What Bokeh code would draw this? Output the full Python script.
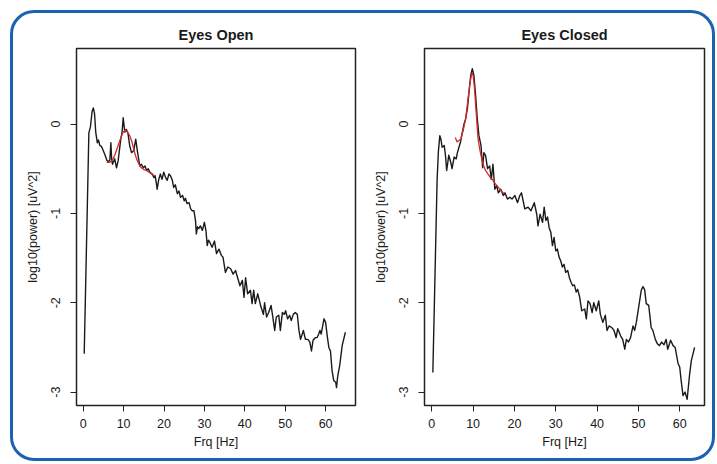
from bokeh.plotting import figure
from bokeh.layouts import row
from bokeh.models import FixedTicker
from bokeh.embed import file_html
from bokeh.resources import INLINE

# ---- data ----
open_freq = [0.25, 1.4, 1.8, 2.2, 2.5, 2.8, 3.1, 3.5, 3.8, 4.1, 4.5, 4.8, 5.35, 5.9, 6.3, 6.6, 6.85, 7.05,
             7.25, 7.8, 8.25, 8.65, 9.3, 9.6, 9.9, 10.3, 10.7, 11.1, 11.5, 11.95, 12.5, 13.0, 13.4, 14.0,
             14.4, 14.85, 15.3, 15.7, 16.1, 16.5, 17.1, 17.5, 17.8, 18.1, 18.3, 18.7, 19.1, 19.5, 19.95,
             20.4, 20.8, 21.2, 21.6, 22.0, 22.4, 22.8, 23.3, 23.7, 24.1, 24.6, 25.0, 25.3, 25.7, 26.2,
             26.6, 27.0, 27.4, 27.8, 28.0, 28.3, 28.6, 29.0, 29.5, 30.0, 30.4, 30.7, 31.0, 31.3, 31.9,
             32.5, 33.0, 33.6, 34.2, 34.6, 35.2, 35.8, 36.5, 37.1, 37.7, 38.1, 38.8, 39.4, 39.8, 40.2,
             40.7, 41.4, 41.8, 42.2, 42.6, 43.2, 43.9, 44.6, 44.9, 45.4, 45.9, 46.5, 47.0, 47.4, 47.8,
             48.4, 48.8, 49.3, 49.8, 50.1, 50.6, 51.1, 51.5, 52.0, 52.5, 53.0, 53.4, 53.8, 54.5, 55.0,
             55.6, 56.1, 56.5, 56.9, 57.5, 57.9, 58.3, 58.6, 58.9, 59.6, 60.0, 60.4, 60.8, 61.2, 61.6,
             62.0, 62.5, 62.7, 63.0, 63.5, 64.1, 64.9]
open_power = [-2.57, -0.10, -0.03, 0.14, 0.18, 0.12, -0.09, -0.21, -0.18, -0.24, -0.25, -0.28, -0.34, -0.41,
              -0.42, -0.40, -0.21, -0.40, -0.45, -0.39, -0.49, -0.41, -0.17, -0.10, 0.07, -0.09, -0.06,
              -0.11, -0.24, -0.32, -0.30, -0.17, -0.30, -0.47, -0.45, -0.49, -0.47, -0.52, -0.50, -0.54,
              -0.56, -0.60, -0.58, -0.66, -0.73, -0.62, -0.56, -0.62, -0.54, -0.60, -0.63, -0.56, -0.58,
              -0.62, -0.71, -0.68, -0.78, -0.75, -0.82, -0.80, -0.86, -0.83, -0.89, -0.88, -0.95, -0.97,
              -0.97, -1.08, -1.23, -1.15, -1.17, -1.14, -1.19, -1.10, -1.20, -1.36, -1.30, -1.32, -1.38,
              -1.31, -1.45, -1.40, -1.47, -1.49, -1.66, -1.60, -1.62, -1.68, -1.64, -1.70, -1.81, -1.75,
              -1.94, -1.72, -1.90, -1.86, -2.01, -1.86, -2.01, -1.90, -2.03, -2.13, -2.00, -2.16, -2.11,
              -2.03, -2.18, -2.31, -2.16, -2.14, -2.31, -2.11, -2.13, -2.09, -2.18, -2.14, -2.20, -2.13,
              -2.11, -2.13, -2.31, -2.41, -2.31, -2.41, -2.41, -2.44, -2.54, -2.42, -2.39, -2.39, -2.35,
              -2.31, -2.35, -2.18, -2.22, -2.37, -2.50, -2.54, -2.76, -2.87, -2.89, -2.95, -2.82, -2.70,
              -2.48, -2.33]
open_fit_freq = [5.8, 6.5, 7.0, 7.4, 7.8, 8.2, 8.65, 9.1, 9.5, 9.9, 10.5, 11.0, 11.5, 12.0, 12.4, 12.8, 13.2,
                 13.8, 14.4, 15.0, 15.7, 16.3, 16.9, 17.7]
open_fit_power = [-0.43, -0.43, -0.41, -0.39, -0.35, -0.30, -0.24, -0.18, -0.13, -0.09, -0.07, -0.09, -0.13,
                  -0.19, -0.26, -0.33, -0.39, -0.45, -0.49, -0.51, -0.52, -0.54, -0.56, -0.58]

closed_freq = [0.25, 1.28, 1.6, 1.94, 2.2, 2.5, 3.0, 3.3, 3.6, 4.1, 4.6, 4.9, 5.4, 5.9, 6.2, 6.7, 7.0, 7.4,
               7.8, 8.2, 8.6, 9.0, 9.4, 9.8, 10.2, 10.6, 11.0, 11.4, 11.9, 12.3, 12.6, 13.0, 13.5, 14.0,
               14.4, 14.8, 15.25, 15.7, 16.1, 16.7, 17.3, 17.7, 18.3, 18.9, 19.4, 20.1, 20.75, 21.3, 21.7,
               22.2, 22.5, 23.3, 24.0, 24.8, 25.4, 25.7, 26.2, 26.8, 27.2, 27.6, 28.0, 28.4, 28.8, 29.2,
               29.6, 30.0, 30.4, 30.8, 31.2, 31.6, 32.0, 32.4, 32.9, 33.3, 33.7, 34.1, 34.5, 34.95, 35.3,
               35.75, 36.3, 37.0, 37.4, 37.8, 38.3, 38.8, 39.2, 39.8, 40.4, 40.8, 41.4, 42.0, 42.4, 42.9,
               43.6, 44.1, 44.6, 45.0, 45.7, 46.2, 46.7, 47.1, 47.6, 48.1, 48.7, 49.1, 49.5, 50.3, 50.7,
               51.1, 51.5, 51.9, 52.5, 53.1, 53.5, 54.1, 54.6, 55.1, 55.6, 56.2, 56.7, 57.1, 57.8, 58.4,
               58.9, 59.6, 60.0, 60.4, 60.8, 61.3, 61.8, 62.4, 62.8, 63.6]
closed_power = [-2.78, -0.63, -0.30, -0.13, -0.17, -0.26, -0.24, -0.35, -0.52, -0.35, -0.43, -0.50, -0.37,
                -0.39, -0.32, -0.24, -0.19, -0.09, 0.00, 0.06, 0.17, 0.35, 0.54, 0.62, 0.54, 0.32, 0.06,
                -0.13, -0.24, -0.49, -0.32, -0.35, -0.50, -0.47, -0.62, -0.45, -0.73, -0.69, -0.77, -0.73,
                -0.80, -0.77, -0.84, -0.82, -0.84, -0.80, -0.88, -0.80, -0.77, -0.88, -0.95, -0.93, -0.97,
                -0.88, -1.01, -1.14, -1.01, -1.10, -0.93, -1.08, -1.04, -1.16, -1.21, -1.36, -1.27, -1.42,
                -1.40, -1.49, -1.53, -1.60, -1.57, -1.66, -1.64, -1.72, -1.77, -1.81, -1.80, -1.88, -1.85,
                -1.93, -2.09, -2.07, -2.18, -1.98, -2.01, -2.11, -2.00, -2.09, -1.98, -2.13, -2.22, -2.14,
                -2.31, -2.26, -2.28, -2.31, -2.39, -2.29, -2.37, -2.41, -2.52, -2.41, -2.44, -2.39, -2.26,
                -2.31, -2.22, -1.98, -1.86, -1.82, -1.85, -2.01, -2.03, -2.28, -2.31, -2.41, -2.46, -2.48,
                -2.44, -2.47, -2.41, -2.52, -2.42, -2.48, -2.50, -2.68, -2.72, -2.89, -3.04, -3.00, -3.08,
                -2.80, -2.65, -2.50]
closed_fit_freq = [5.7, 6.1, 6.4, 7.0, 7.6, 8.2, 8.6, 9.1, 9.4, 9.6, 9.8, 10.0, 10.2, 10.4, 10.8, 11.2, 11.6,
                   11.9, 12.4, 13.0, 13.6, 14.2, 14.8, 15.4, 16.1, 16.8, 17.5]
closed_fit_power = [-0.15, -0.20, -0.19, -0.17, -0.07, 0.06, 0.22, 0.41, 0.50, 0.55, 0.57, 0.54, 0.46,
                    0.35, 0.09, -0.17, -0.28, -0.35, -0.45, -0.52, -0.56, -0.60, -0.63, -0.67, -0.71,
                    -0.75, -0.78]

x_ticks = [0, 10, 20, 30, 40, 50, 60]
y_ticks = [0, -1, -2, -3]
y_tick_labels = {0: "0", -1: "-1", -2: "-2", -3: "-3"}

FONT = "Liberation Sans"
TXT = "#1a1a1a"


def panel(title, freq, power, fit_f, fit_p, x_range, mb_left, mb_right, fw):
    p = figure(frame_width=fw, frame_height=357, x_range=x_range, y_range=(-3.15, 0.845),
               min_border_left=mb_left, min_border_right=mb_right, min_border_top=40,
               min_border_bottom=58, output_backend="svg", toolbar_location=None,
               background_fill_color=None, border_fill_color=None)
    p.title.text = title
    p.title.align = "center"
    p.title.text_font = FONT
    p.title.text_font_style = "bold"
    p.title.text_font_size = "14.5px"
    p.title.text_color = TXT
    p.title.standoff = 11
    p.grid.visible = False
    p.outline_line_color = "#222222"
    p.outline_line_width = 1.5
    for ax in (p.xaxis[0], p.yaxis[0]):
        ax.axis_line_color = None
        ax.major_tick_out = 6
        ax.major_tick_in = 0
        ax.minor_tick_out = 0
        ax.minor_tick_in = 0
        ax.major_tick_line_color = "#222222"
        ax.major_label_text_font = FONT
        ax.major_label_text_font_size = "12.5px"
        ax.major_label_text_color = TXT
        ax.axis_label_text_font = FONT
        ax.axis_label_text_font_size = "12.5px"
        ax.axis_label_text_font_style = "normal"
        ax.axis_label_text_color = TXT
    p.xaxis.ticker = FixedTicker(ticks=x_ticks)
    p.yaxis.ticker = FixedTicker(ticks=y_ticks)
    p.yaxis.major_label_overrides = y_tick_labels
    p.yaxis.major_label_orientation = "vertical"
    p.xaxis.major_label_standoff = 7
    p.yaxis.major_label_standoff = 10
    p.xaxis.axis_label = "Frq [Hz]"
    p.xaxis.axis_label_standoff = 4
    p.yaxis.axis_label = "log10(power) [uV^2]"
    p.yaxis.axis_label_standoff = 9
    p.line(freq, power, line_color="#1a1a1a", line_width=1.4, line_join="round")
    p.line(fit_f, fit_p, line_color="#d42a2a", line_width=1.3, line_join="round")
    return p


p1 = panel("Eyes Open", open_freq, open_power, open_fit_freq, open_fit_power,
           (-1.66, 67.4), 68, 5, 279)
p2 = panel("Eyes Closed", closed_freq, closed_power, closed_fit_freq, closed_fit_power,
           (-1.77, 66.0), 64, 13, 280)

layout = row(p1, p2, width=709, height=455, margin=(8, 0, 0, 8),
             styles={"outline": "3px solid #1c62b0", "outline-offset": "-5px",
                     "border-radius": "26px"})

open("out.html", "w").write(file_html(layout, INLINE))
